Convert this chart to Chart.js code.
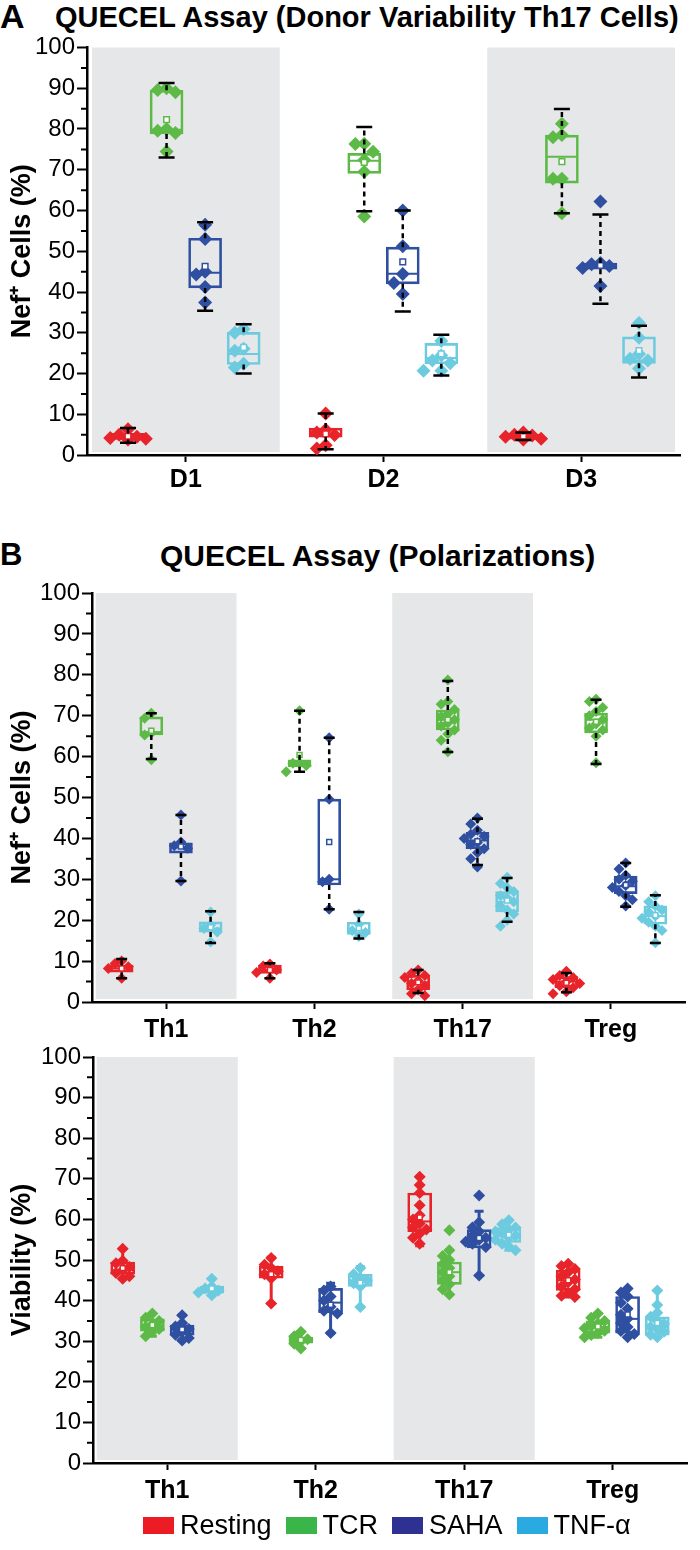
<!DOCTYPE html>
<html lang="en">
<head>
<meta charset="UTF-8">
<title>QUECEL Assay</title>
<script src="https://cdn.jsdelivr.net/npm/chart.js"></script>
<style>
  body { margin: 0; width: 700px; height: 1550px; background: #fff; position: relative; overflow: hidden;
         font-family: 'Liberation Sans', Arial, sans-serif; color: #000; }
  .txt { position: absolute; font-weight: bold; white-space: nowrap; line-height: 1; }
  canvas { position: absolute; left: 0; }
  #legend { position: absolute; left: 143px; top: 1512px; display: flex; align-items: center;
            font-size: 27px; line-height: 1; white-space: nowrap; }
  #legend span.sw { display: inline-block; width: 31px; height: 17px; margin-right: 6px; }
  #legend span.lb { margin-right: 14px; }
</style>
</head>
<body>
<div class="txt" style="left:0; top:-1px; font-size:34px;">A</div>
<div class="txt" style="left:55px; top:3px; font-size:29px;">QUECEL Assay (Donor Variability Th17 Cells)</div>
<div class="txt" style="left:0; top:539px; font-size:31px;">B</div>
<div class="txt" style="left:160px; top:541px; font-size:30px;">QUECEL Assay (Polarizations)</div>

<canvas id="donorChart" width="700" height="470" style="top:30px"></canvas>
<canvas id="nefChart" width="700" height="470" style="top:575px"></canvas>
<canvas id="viaChart" width="700" height="470" style="top:1040px"></canvas>
<div id="legend"></div>

<script>
// conditions and colours
const groups = ['Resting', 'TCR', 'SAHA', 'TNF-α'];
const pointColors = ['#e8242b', '#5dba47', '#2f4fa1', '#6dcbe0'];
const legendColors = ['#ed1c24', '#39b54a', '#2e3192', '#29abe2'];

// ---- A: donor variability, Nef+ cells (%) ----
const donors = ['D1', 'D2', 'D3'];
const donorResting = [[6.3, 5.0, 4.5, 4.2, 4.0, 3.8], [10.2, 6.2, 5.5, 4.9, 2.4, 1.6], [5.5, 5.0, 4.8, 4.5, 4.0, 3.8]];
const donorTCR = [[90.0, 89.6, 89.0, 80.0, 79.6, 79.0, 74.5], [76.4, 76.3, 74.4, 72.4, 69.5, 58.5], [81.3, 78.5, 78.0, 67.8, 67.8, 59.3]];
const donorSAHA = [[56.5, 53.0, 45.0, 44.3, 41.2, 37.4], [60.0, 51.2, 44.4, 42.2, 39.5], [62.2, 47.1, 46.8, 46.4, 45.9, 41.5]];
const donorTNF = [[30.9, 30.0, 26.1, 25.6, 22.4, 21.5], [28.0, 24.4, 23.2, 22.5, 20.7, 20.7], [32.4, 28.8, 24.8, 23.6, 23.2, 21.2]];
// box stats: [min, q1, median, q3, max, mean]
const donorRestingBox = [[3.0, 3.8, 4.3, 5.3, 6.6, 4.6], [1.4, 4.4, 5.0, 6.6, 10.2, 5.2], [3.7, 3.9, 4.6, 5.1, 5.5, 4.6]];
const donorTCRBox = [[73.0, 78.8, 79.8, 89.5, 91.3, 82.3], [59.8, 69.1, 72.2, 74.0, 80.5, 71.8], [59.3, 66.7, 73.2, 78.5, 84.9, 72.0]];
const donorSAHABox = [[35.4, 41.0, 44.7, 53.2, 57.1, 46.3], [35.2, 42.0, 44.5, 51.0, 60.0, 47.4], [37.1, 45.6, 46.4, 47.1, 59.0, 46.5]];
const donorTNFBox = [[20.0, 22.2, 24.8, 30.1, 32.1, 26.4], [19.5, 22.4, 23.8, 27.4, 29.5, 24.8], [19.0, 22.5, 23.2, 29.0, 31.7, 25.6]];

// ---- B: polarizations, Nef+ cells (%) ----
const subsets = ['Th1', 'Th2', 'Th17', 'Treg'];
const nefResting = [[10.0, 9.4, 8.6, 8.2, 5.8], [9.3, 8.8, 7.8, 7.2, 5.8],
  [7.8, 7.0, 6.5, 6.0, 5.2, 4.5, 4.0, 3.0, 2.0, 1.5], [7.5, 6.5, 6.0, 5.5, 5.0, 4.5, 4.0, 3.5, 2.5, 2.0]];
const nefTCR = [[70.6, 69.4, 65.8, 65.3, 59.2], [71.2, 58.4, 58.4, 57.8, 56.3],
  [78.7, 73.5, 72.8, 71.5, 70.5, 69.8, 69.0, 68.2, 67.5, 66.5, 65.5, 64.0, 61.2],
  [74.0, 73.5, 72.0, 71.0, 70.0, 69.0, 68.0, 67.0, 66.5, 65.0, 58.5]];
const nefSAHA = [[45.7, 39.1, 38.2, 37.6, 29.6], [64.6, 49.6, 30.0, 29.4, 22.7],
  [45.0, 43.5, 42.0, 41.0, 40.5, 40.0, 39.0, 38.5, 37.5, 36.5, 35.0, 33.0],
  [34.0, 32.5, 31.0, 30.0, 29.5, 28.5, 28.0, 27.0, 26.0, 25.0, 23.5]];
const nefTNF = [[22.0, 18.8, 18.0, 17.1, 14.7], [21.5, 19.0, 17.5, 17.0, 16.0],
  [30.5, 29.0, 28.0, 27.0, 26.0, 25.5, 24.5, 23.5, 22.5, 21.5, 20.0, 18.5],
  [26.0, 24.5, 23.5, 22.5, 22.0, 21.0, 20.5, 19.5, 18.5, 17.5, 14.5]];
const nefRestingBox = [[5.8, 7.3, 8.2, 9.0, 10.5, 8.2], [5.8, 7.0, 7.8, 9.0, 9.5, 7.8], [2.2, 3.0, 4.8, 6.5, 7.8, 4.8], [2.4, 3.5, 5.0, 6.2, 7.1, 4.7]];
const nefTCRBox = [[59.4, 65.3, 66.0, 69.7, 70.6, 66.3], [56.3, 57.5, 58.4, 59.2, 71.2, 60.4], [61.1, 66.5, 69.0, 71.4, 78.5, 69.0], [58.2, 65.8, 69.0, 70.6, 73.9, 68.5]];
const nefSAHABox = [[29.6, 36.4, 37.8, 38.9, 45.7, 38.0], [22.7, 28.6, 30.0, 49.6, 64.6, 39.1], [33.5, 37.5, 39.5, 41.5, 44.8, 39.3], [23.3, 26.5, 28.3, 30.8, 34.0, 28.6]];
const nefTNFBox = [[14.4, 17.1, 18.0, 19.6, 22.2, 18.3], [15.5, 16.5, 17.5, 19.5, 22.0, 18.0], [19.6, 22.0, 24.5, 27.0, 30.3, 24.8], [14.4, 19.0, 21.0, 23.5, 26.1, 21.2]];

// ---- B lower: viability (%) ----
const viaResting = [[52.8, 49.8, 49.2, 48.3, 47.5, 46.8, 46.0, 45.4], [50.5, 48.8, 48.0, 47.2, 46.5, 45.5, 39.3],
  [70.5, 68.5, 66.5, 63.5, 61.0, 60.0, 59.0, 58.0, 57.5, 56.5, 55.5, 54.0],
  [49.1, 48.5, 47.8, 47.0, 46.0, 45.2, 44.5, 43.5, 42.8, 42.0, 41.2, 40.9]];
const viaTCR = [[36.8, 35.8, 35.0, 34.2, 33.5, 33.0, 32.3, 31.2], [32.3, 31.2, 30.5, 30.0, 29.4, 28.2],
  [57.3, 52.4, 51.0, 50.0, 49.0, 48.0, 47.0, 46.0, 45.0, 44.0, 42.8, 41.5],
  [36.8, 35.8, 35.0, 34.3, 33.7, 33.2, 32.6, 32.0, 31.5, 31.0]];
const viaSAHA = [[36.4, 34.5, 33.6, 33.0, 32.4, 31.6, 30.8, 30.2], [43.5, 42.5, 41.0, 40.0, 38.5, 37.5, 36.8, 32.0],
  [65.9, 59.3, 58.0, 57.0, 56.0, 55.5, 55.0, 54.5, 54.0, 53.2, 46.2],
  [43.0, 42.0, 41.0, 39.5, 38.0, 36.5, 35.5, 34.5, 33.5, 32.5, 31.8, 31.0]];
const viaTNF = [[45.4, 43.5, 43.0, 42.5, 42.0, 41.3], [48.0, 46.5, 45.5, 45.0, 44.3, 43.5, 38.4],
  [59.8, 58.8, 58.0, 57.5, 57.0, 56.5, 56.0, 55.5, 55.0, 54.0, 53.3, 52.4],
  [42.5, 38.9, 37.0, 36.0, 35.0, 34.3, 33.5, 33.0, 32.3, 31.6, 31.0]];
const viaRestingBox = [[45.4, 46.5, 47.5, 49.5, 52.8, 48.0], [39.3, 45.5, 47.0, 48.5, 50.7, 46.5], [53.5, 57.0, 59.5, 66.5, 70.5, 60.5], [40.9, 42.5, 45.0, 47.5, 49.1, 45.0]];
const viaTCRBox = [[31.2, 32.5, 33.8, 35.5, 36.8, 34.0], [28.2, 29.5, 30.2, 31.0, 32.3, 30.3], [41.5, 44.0, 47.0, 49.5, 52.4, 47.0], [31.0, 32.0, 33.5, 35.0, 36.8, 33.6]];
const viaSAHABox = [[30.2, 31.5, 32.8, 34.0, 36.4, 32.9], [32.0, 37.0, 39.5, 43.0, 44.3, 39.0], [46.2, 53.0, 55.0, 57.5, 62.0, 55.4], [31.0, 32.0, 35.5, 41.0, 43.0, 36.6]];
const viaTNFBox = [[41.3, 41.8, 42.7, 43.6, 45.4, 43.0], [38.4, 43.5, 45.0, 46.5, 48.4, 44.4], [52.4, 54.3, 56.2, 58.0, 59.8, 56.2], [31.0, 31.5, 33.5, 36.0, 42.5, 34.5]];

const yTicks = [0, 10, 20, 30, 40, 50, 60, 70, 80, 90, 100];

// spread overlapping points sideways (like a scatter dot plot), returns slot per point
function slots(values, minGap) {
  const placed = [];
  return values.map(v => {
    for (const k of [0, -1, 1, -2, 2]) {
      if (!placed.some(p => p.k === k && Math.abs(p.v - v) < minGap)) {
        placed.push({ k, v });
        return k;
      }
    }
    return 0;
  });
}

// whiskers, shaded columns, minor ticks
const boxExtras = {
  id: 'boxExtras',
  beforeDatasetsDraw(chart, args, o) {
    const { ctx, scales: { x, y } } = chart;
    ctx.save();
    ctx.fillStyle = '#e6e7e8';
    o.shaded.forEach(i => {
      const l = x.getPixelForValue(i - 0.475), r = x.getPixelForValue(i + 0.475);
      const t = y.getPixelForValue(100), b = y.getPixelForValue(0) - 3;
      ctx.fillRect(l, t, r - l, b - t);
    });
    ctx.restore();
  },
  afterDatasetsDraw(chart, args, o) {
    const { ctx, scales: { x, y } } = chart;
    ctx.save();
    o.boxes.forEach((list, g) => {
      list.forEach((s, i) => {
        const cx = x.getPixelForValue(i + o.offsets[g]);
        const [mn, q1, , q3, mx] = s;
        ctx.strokeStyle = o.whiskerColor || pointColors[g];
        ctx.lineWidth = o.whiskerWidth;
        ctx.setLineDash(o.dash);
        ctx.beginPath();
        if (mx > q3) { ctx.moveTo(cx, y.getPixelForValue(q3)); ctx.lineTo(cx, y.getPixelForValue(mx)); }
        if (mn < q1) { ctx.moveTo(cx, y.getPixelForValue(q1)); ctx.lineTo(cx, y.getPixelForValue(mn)); }
        ctx.stroke();
        ctx.setLineDash([]);
        ctx.beginPath();
        [mn, mx].forEach(v => {
          const py = y.getPixelForValue(v);
          ctx.moveTo(cx - o.capW / 2, py);
          ctx.lineTo(cx + o.capW / 2, py);
        });
        ctx.stroke();
      });
    });
    ctx.restore();
  },
  afterDraw(chart) {
    const { ctx, chartArea, scales: { y } } = chart;
    ctx.save();
    ctx.strokeStyle = '#000';
    ctx.lineWidth = 2;
    ctx.beginPath();
    for (let v = 5; v < 100; v += 10) {
      const py = y.getPixelForValue(v);
      ctx.moveTo(chartArea.left - 6, py);
      ctx.lineTo(chartArea.left, py);
    }
    ctx.stroke();
    ctx.restore();
  }
};

function makePanel(id, p) {
  const offsets = [-1.5, -0.5, 0.5, 1.5].map(k => k * p.groupStep);
  const datasets = [];
  p.points.forEach((list, g) => {
    const pts = [];
    list.forEach((vals, i) => {
      const k = slots(vals, p.minGap);
      vals.forEach((v, j) => pts.push({ x: i + offsets[g] + k[j] * p.spreadStep, y: v }));
    });
    datasets.push({
      type: 'scatter', label: groups[g], data: pts, order: 3,
      pointStyle: 'rectRot', radius: p.radius, backgroundColor: pointColors[g], borderWidth: 0
    });
  });
  p.boxes.forEach((list, g) => {
    datasets.push({
      type: 'bar', label: groups[g] + ' box', order: 2, grouped: false,
      data: list.map((s, i) => ({ x: i + offsets[g], y: [s[1], s[3]] })),
      backgroundColor: 'rgba(0,0,0,0)', borderColor: pointColors[g], borderWidth: 2,
      borderSkipped: false, barThickness: p.boxW, maxBarThickness: p.boxW
    });
    datasets.push({
      type: 'scatter', label: groups[g] + ' median', order: 1,
      data: list.map((s, i) => ({ x: i + offsets[g], y: s[2] })),
      pointStyle: 'line', radius: p.boxW / 2 - 1, borderColor: pointColors[g], borderWidth: 2
    });
    datasets.push({
      type: 'scatter', label: groups[g] + ' mean', order: 0,
      data: list.map((s, i) => ({ x: i + offsets[g], y: s[5] })),
      pointStyle: 'rect', radius: p.meanR, borderColor: pointColors[g], backgroundColor: '#fff', borderWidth: 1.5
    });
  });

  const H = document.getElementById(id).height;
  return new Chart(document.getElementById(id), {
    type: 'scatter',
    data: { datasets },
    options: {
      responsive: false,
      animation: false,
      events: [],
      layout: { padding: { left: 0, top: p.top, right: p.right, bottom: 0 } },
      plugins: {
        legend: { display: false },
        tooltip: { enabled: false },
        boxExtras: {
          shaded: p.shaded, boxes: p.boxes, offsets, capW: p.capW,
          whiskerColor: p.whiskerColor, whiskerWidth: p.whiskerWidth, dash: p.dash
        }
      },
      scales: {
        x: {
          type: 'linear', min: -0.5, max: p.cats.length - 0.5, offset: false,
          afterBuildTicks: s => { s.ticks = p.cats.map((c, i) => ({ value: i })); },
          afterFit: s => { s.height = H - p.bottom; },
          ticks: {
            callback: v => p.cats[v], color: '#000', padding: p.xPad, maxRotation: 0, autoSkip: false,
            font: { family: 'Liberation Sans', size: 25, weight: 'bold' }
          },
          grid: { drawOnChartArea: false, offset: false, tickLength: 7, tickWidth: 2, tickColor: '#000' },
          border: { color: '#000', width: 2.5 }
        },
        y: {
          type: 'linear', min: 0, max: 100,
          afterBuildTicks: s => { s.ticks = yTicks.map(v => ({ value: v })); },
          afterFit: s => { s.width = p.yWidth; },
          ticks: { color: '#000', padding: 2, font: { family: 'Liberation Sans', size: 24 } },
          grid: { drawOnChartArea: false, tickLength: 10, tickWidth: 2, tickColor: '#000' },
          border: { color: '#000', width: 2.5 },
          title: {
            display: true, text: p.yTitle, color: '#000', padding: { top: 6, bottom: 0 },
            font: { family: 'Liberation Sans', size: 27, weight: 'bold' }
          }
        }
      }
    },
    plugins: [boxExtras]
  });
}

makePanel('donorChart', {
  cats: donors,
  points: [donorResting, donorTCR, donorSAHA, donorTNF],
  boxes: [donorRestingBox, donorTCRBox, donorSAHABox, donorTNFBox],
  shaded: [0, 2], yTitle: 'Nef⁺ Cells (%)',
  yWidth: 87, top: 15, right: 20, bottom: 425, xPad: 3,
  groupStep: 0.195, spreadStep: 0.045, minGap: 2.6,
  boxW: 33, radius: 7, meanR: 4, capW: 16,
  whiskerColor: '#000', whiskerWidth: 2.5, dash: [5, 4]
});

makePanel('nefChart', {
  cats: subsets,
  points: [nefResting, nefTCR, nefSAHA, nefTNF],
  boxes: [nefRestingBox, nefTCRBox, nefSAHABox, nefTNFBox],
  shaded: [0, 2], yTitle: 'Nef⁺ Cells (%)',
  yWidth: 92, top: 18, right: 15, bottom: 427, xPad: 6,
  groupStep: 0.2, spreadStep: 0.045, minGap: 2.2,
  boxW: 23, radius: 5.5, meanR: 3.5, capW: 11,
  whiskerColor: '#000', whiskerWidth: 2.5, dash: [5, 4]
});

makePanel('viaChart', {
  cats: subsets,
  points: [viaResting, viaTCR, viaSAHA, viaTNF],
  boxes: [viaRestingBox, viaTCRBox, viaSAHABox, viaTNFBox],
  shaded: [0, 2], yTitle: 'Viability (%)',
  yWidth: 93, top: 17, right: 10, bottom: 423, xPad: 6,
  groupStep: 0.2, spreadStep: 0.045, minGap: 1.8,
  boxW: 24, radius: 6, meanR: 3.5, capW: 9,
  whiskerColor: null, whiskerWidth: 3, dash: []
});

// legend
const legend = document.getElementById('legend');
groups.forEach((g, i) => {
  const sw = document.createElement('span');
  sw.className = 'sw';
  sw.style.background = legendColors[i];
  const lb = document.createElement('span');
  lb.className = 'lb';
  lb.textContent = g;
  legend.appendChild(sw);
  legend.appendChild(lb);
});
</script>
</body>
</html>
